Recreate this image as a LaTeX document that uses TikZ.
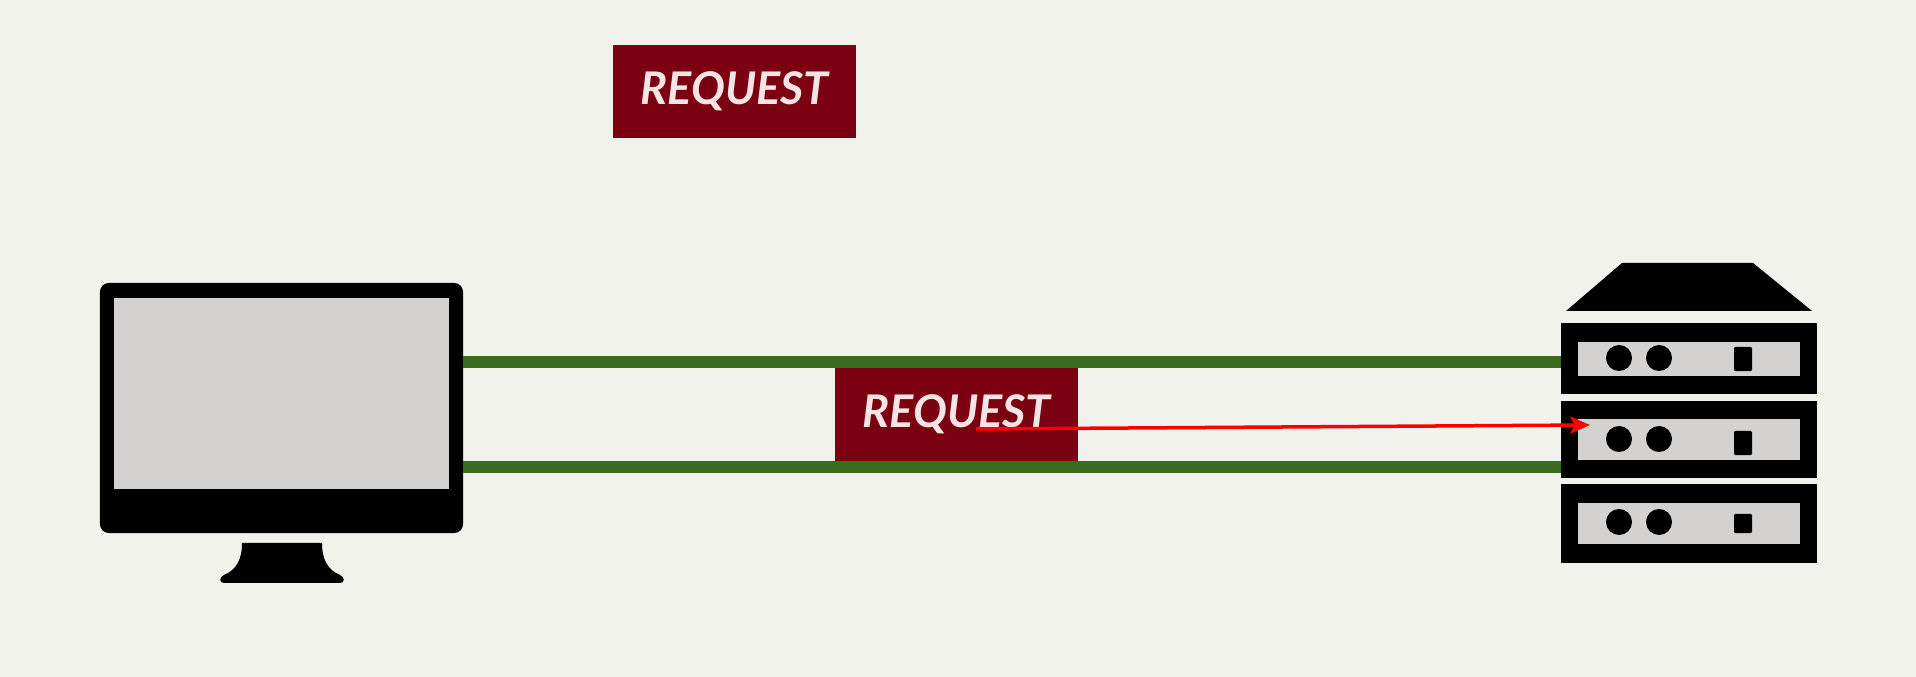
\documentclass[tikz,border=0pt]{standalone}
\usepackage{fontspec}
\setmainfont{Lato}
\usetikzlibrary{arrows.meta}
\definecolor{paper}{HTML}{F1F2EC}
\definecolor{panel}{HTML}{D3D2D0}
\definecolor{wire}{HTML}{3A6B1E}
\definecolor{reqred}{HTML}{7A0012}
\definecolor{reqtext}{HTML}{F6E4E4}
\tikzset{
  kit/.style={fill=black,inner sep=0pt,outer sep=0pt},
  face/.style={fill=panel,inner sep=0pt,outer sep=0pt},
  reqbox/.style={fill=reqred,text=reqtext,inner sep=0pt,outer sep=0pt,minimum width=2.42cm,minimum height=0.92cm,
    font=\fontsize{12.8}{14}\selectfont\bfseries\itshape},
  wireline/.style={draw=wire,line width=0.125cm},
  flow/.style={draw=red,line width=0.035cm,-{Stealth[length=5.6pt,width=4.8pt,inset=1.2pt]}}
}
\begin{document}
\begin{tikzpicture}[x=0.01cm,y=-0.01cm]
  \fill[paper] (0,0) rectangle (1916,677);
  % monitor
  \node[kit,rounded corners=2.6pt,minimum width=3.63cm,minimum height=2.5cm] (monitor) at (281.5,408) {};
  \node[face,minimum width=3.35cm,minimum height=1.91cm] (screen) at (281.5,393.5) {};
  \fill (242,543) -- (322,543) .. controls (322,560) and (328,570) .. (340,575)
    .. controls (345,577) and (345,583) .. (340,583) -- (224,583)
    .. controls (219,583) and (219,577) .. (224,575) .. controls (236,570) and (242,560) .. (242,543) -- cycle;
  % server
  \fill (1622,263) -- (1753,263) -- (1812,311) -- (1566,311) -- cycle;
  \foreach \n/\ry/\rh/\py/\ph/\cy/\sy/\sh in {1/358.5/0.71/359/0.34/358/359/0.24,2/439.5/0.77/439.5/0.41/439/443/0.24,3/523.5/0.79/523.5/0.41/522/523.5/0.19}
  {
    \node[kit,minimum width=2.56cm,minimum height=\rh cm] (rack\n) at (1689,\ry) {};
    \node[face,minimum width=2.22cm,minimum height=\ph cm] (panel\n) at (1689,\py) {};
    \fill (1619,\cy) circle (13) (1659,\cy) circle (13);
    \node[kit,rounded corners=0.3pt,minimum width=0.18cm,minimum height=\sh cm] (slot\n) at (1743,\sy) {};
  }
  % links
  \coordinate (topleft) at (monitor.east |- 0,362);
  \coordinate (topright) at (rack1.west |- 0,362);
  \coordinate (lowleft) at (monitor.east |- 0,467);
  \coordinate (lowright) at (rack2.west |- 0,467);
  \draw[wireline] (topleft) -- (topright);
  \draw[wireline] (lowleft) -- (lowright);
  % requests
  \node[reqbox,minimum height=0.93cm,minimum width=2.43cm] (reqfirst) at (734.5,91.5) {\raisebox{1pt}{REQUEST}};
  \node[reqbox] (reqsecond) at (956.5,414.5) {\raisebox{1.7pt}{REQUEST}};
  \coordinate (flowstart) at (976,429);
  \coordinate (flowend) at (1590,425);
  \draw[flow] (flowstart) -- (flowend);
\end{tikzpicture}
\end{document}
